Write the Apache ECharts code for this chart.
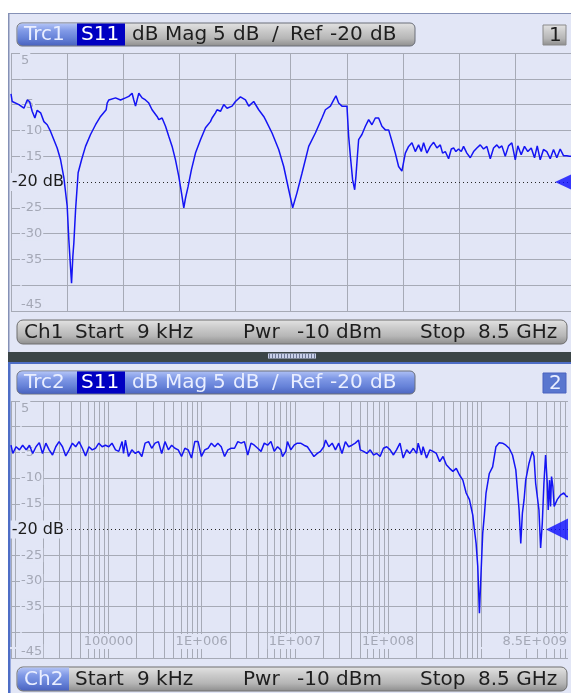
<!DOCTYPE html>
<html>
<head>
<meta charset="utf-8">
<script src="https://cdn.jsdelivr.net/npm/echarts@6/dist/echarts.min.js"></script>
<style>
  html, body { margin: 0; padding: 0; background: #ffffff; }
  #chart { width: 571px; height: 693px; }
</style>
</head>
<body>
<div id="chart"></div>
<script>
// ---- Channel 1: linear sweep 9 kHz .. 8.5 GHz (frequency in GHz) ----
const topFreqGHz = [
  0.009, 0.027, 0.129, 0.205, 0.255, 0.291, 0.330, 0.371, 0.406, 0.458,
  0.508, 0.558, 0.609, 0.659, 0.709, 0.761, 0.811, 0.861, 0.886, 0.912,
  0.927, 0.947, 0.962, 0.988, 1.027, 1.079, 1.139, 1.215, 1.291, 1.367,
  1.386, 1.452, 1.467, 1.492, 1.594, 1.670, 1.745, 1.795, 1.845, 1.871,
  1.897, 1.947, 1.997, 2.048, 2.098, 2.148, 2.224, 2.250, 2.300, 2.352,
  2.402, 2.452, 2.503, 2.553, 2.594, 2.629, 2.655, 2.694, 2.745, 2.806,
  2.882, 2.958, 3.033, 3.058, 3.109, 3.133, 3.185, 3.235, 3.285, 3.361,
  3.412, 3.488, 3.564, 3.614, 3.689, 3.765, 3.841, 3.867, 3.967, 4.068,
  4.144, 4.220, 4.280, 4.345, 4.421, 4.523, 4.624, 4.724, 4.776, 4.852,
  4.902, 4.936, 4.977, 5.027, 5.103, 5.129, 5.155, 5.189, 5.220, 5.239,
  5.261, 5.280, 5.330, 5.382, 5.432, 5.482, 5.533, 5.583, 5.633, 5.685,
  5.735, 5.785, 5.836, 5.886, 5.936, 5.988, 6.038, 6.088,
  6.139, 6.189, 6.230, 6.265, 6.315, 6.367, 6.417, 6.467, 6.518, 6.553,
  6.594, 6.644, 6.685, 6.720, 6.755, 6.795, 6.836, 6.871, 6.921, 6.973,
  7.023, 7.073, 7.124, 7.174, 7.224, 7.276, 7.326, 7.376, 7.412, 7.452,
  7.503, 7.553, 7.603, 7.655, 7.694, 7.745, 7.795, 7.845, 7.897, 7.947,
  7.988, 8.033, 8.083, 8.133, 8.185, 8.235, 8.285, 8.336, 8.386, 8.436,
  8.477, 8.500
];
const topS11dB = [
  -2.9, -4.4, -5.0, -5.7, -4.1, -4.4, -6.3, -7.6, -6.1, -6.6,
  -8.3, -8.9, -10.2, -11.8, -13.4, -15.7, -19.2, -24.7, -31.2, -36.6,
  -39.6, -34.4, -31.8, -25.4, -18.2, -15.7, -13.1, -10.8, -8.9, -7.3,
  -7.0, -6.0, -4.7, -4.1, -3.7, -4.1, -3.7, -3.4, -2.8, -4.1,
  -5.3, -2.8, -3.7, -4.1, -4.7, -6.0, -7.3, -7.9, -7.6, -9.2,
  -11.2, -13.1, -15.7, -18.9, -22.1, -25.0, -23.1, -20.9, -17.6, -14.4,
  -11.8, -9.5, -8.3, -7.6, -6.6, -6.0, -6.3, -5.0, -5.7, -5.3,
  -4.4, -3.5, -4.1, -5.3, -4.4, -6.0, -7.3, -7.9, -10.5, -13.7,
  -17.0, -21.5, -25.0, -22.1, -18.3, -13.1, -10.5, -7.6, -6.0, -5.3,
  -4.1, -3.3, -4.7, -5.3, -5.3, -11.2, -15.0, -19.6, -21.5, -18.9,
  -15.0, -11.8, -10.8, -9.2, -7.9, -8.9, -7.6, -7.6, -9.2, -9.9,
  -9.9, -12.1, -14.4, -17.0, -17.9, -14.4, -13.1, -12.4,
  -14.1, -12.8, -14.1, -12.4, -14.4, -13.1, -12.3, -13.4, -12.8, -14.4,
  -14.1, -15.5, -13.6, -13.4, -14.1, -13.6, -14.1, -13.1, -14.4, -15.3,
  -14.1, -13.4, -12.8, -13.6, -13.1, -15.5, -13.4, -12.8, -13.4, -13.0,
  -15.0, -13.0, -12.4, -15.7, -13.0, -14.7, -13.1, -14.1, -13.4, -15.3,
  -13.0, -15.7, -13.7, -14.1, -15.5, -13.7, -15.3, -13.6, -14.9, -14.9,
  -15.0, -15.0
];

// ---- Channel 2: logarithmic sweep 9 kHz .. 8.5 GHz (frequency in Hz) ----
const botFreqHz = [
  9.0e3, 9.41e3, 10.2e3, 11.1e3, 12.0e3, 13.1e3, 14.2e3, 15.4e3, 16.7e3, 18.1e3,
  19.6e3, 21.3e3, 23.1e3, 25.1e3, 27.2e3, 29.5e3, 32.1e3, 34.8e3, 37.8e3, 41.0e3,
  44.5e3, 48.3e3, 52.4e3, 56.8e3, 61.7e3, 66.9e3, 72.6e3, 78.8e3, 85.5e3, 92.8e3,
  100.7e3, 109e3, 119e3, 129e3, 140e3, 145e3, 152e3, 164e3, 178e3, 194e3,
  210e3, 228e3, 247e3, 269e3, 291e3, 316e3, 343e3, 372e3, 404e3, 439e3,
  476e3, 516e3, 560e3, 608e3, 660e3, 716e3, 777e3, 843e3, 915e3, 993e3,
  1.078e6, 1.17e6, 1.27e6, 1.38e6, 1.49e6, 1.62e6, 1.76e6, 1.91e6, 2.07e6, 2.25e6,
  2.44e6, 2.65e6, 2.87e6, 3.12e6, 3.38e6, 3.67e6, 3.99e6, 4.33e6, 4.69e6, 5.09e6,
  5.53e6, 6.0e6, 6.51e6, 7.06e6, 7.36e6, 7.98e6,
  8.32e6, 9.03e6, 9.79e6, 10.6e6, 11.5e6, 12.5e6, 13.6e6, 14.7e6, 16.0e6, 17.4e6,
  18.8e6, 20.4e6, 21.3e6, 23.1e6, 25.1e6, 27.2e6, 29.5e6, 32.0e6, 34.8e6, 37.7e6,
  40.9e6, 44.4e6, 48.2e6, 50.2e6, 54.5e6, 59.1e6, 64.2e6, 69.6e6, 75.6e6, 82.0e6,
  89.0e6, 96.6e6, 105e6, 114e6, 123e6, 134e6, 145e6, 158e6, 171e6, 186e6,
  202e6, 210e6, 228e6, 237e6, 258e6, 280e6, 303e6, 329e6, 357e6, 388e6,
  421e6, 456e6, 495e6, 538e6, 583e6, 633e6, 687e6, 745e6, 809e6, 843e6,
  878e6, 915e6, 953e6, 992e6, 1.034e9, 1.077e9, 1.122e9, 1.217e9, 1.321e9, 1.434e9,
  1.556e9, 1.688e9, 1.832e9, 1.988e9, 2.157e9, 2.341e9, 2.439e9, 2.540e9, 2.647e9, 2.756e9,
  2.872e9, 2.991e9, 3.246e9, 3.523e9, 3.670e9, 3.823e9, 4.148e9, 4.322e9, 4.502e9, 4.690e9,
  4.886e9, 5.090e9, 5.216e9, 5.389e9, 5.523e9, 5.660e9, 5.848e9, 6.042e9, 6.506e9, 7.059e9,
  7.661e9, 8.2e9, 8.5e9
];
const botS11dB = [
  -3.6, -5.2, -3.9, -4.5, -3.6, -4.5, -3.6, -5.2, -3.9, -3.1,
  -5.2, -3.2, -4.5, -5.5, -3.9, -2.9, -3.9, -5.7, -4.5, -3.2,
  -3.9, -2.9, -4.2, -5.7, -3.9, -4.5, -4.2, -3.2, -3.9, -3.6,
  -3.9, -3.2, -4.5, -4.8, -2.9, -5.2, -2.6, -5.8, -4.5, -5.2,
  -4.8, -5.8, -3.2, -2.9, -4.2, -3.2, -2.9, -5.2, -2.9, -4.5,
  -3.6, -4.2, -4.5, -5.8, -4.2, -4.5, -6.1, -2.9, -2.9, -5.8,
  -4.5, -4.2, -3.2, -3.9, -3.2, -3.9, -5.8, -4.5, -4.2, -4.2,
  -2.9, -3.2, -2.9, -5.5, -3.2, -3.6, -4.2, -4.8, -3.2, -3.6,
  -2.9, -4.8, -3.9, -4.5, -5.8, -4.8,
  -2.9, -4.5, -3.6, -3.2, -3.2, -3.6, -3.9, -4.8, -5.8, -5.2,
  -4.8, -3.9, -2.6, -3.9, -3.2, -4.5, -3.2, -5.2, -2.9, -3.9,
  -3.6, -3.2, -2.6, -4.5, -4.8, -5.2, -4.5, -5.5, -5.2, -5.8,
  -4.2, -3.9, -4.5, -5.5, -4.5, -3.2, -6.1, -4.5, -5.2, -4.2,
  -5.2, -3.2, -5.5, -3.9, -6.1, -4.5, -4.8, -5.2, -6.8, -5.8,
  -7.4, -8.1, -8.7, -8.1, -9.4, -10.4, -12.9, -14.2, -17.2, -20.1,
  -22.7, -27.2, -36.3, -28.5, -20.7, -17.2, -12.9, -9.1, -7.8, -3.9,
  -3.1, -3.2, -3.6, -4.2, -5.5, -8.4, -12.3, -16.2, -22.7, -16.8,
  -14.2, -10.4, -7.1, -4.8, -5.8, -11.0, -16.2, -23.6, -18.8, -11.0,
  -5.5, -11.0, -16.2, -10.4, -15.5, -9.7, -11.6, -15.5, -14.2, -13.3,
  -12.9, -13.6, -13.6
];

// ---- Scale and annotation settings ----
const dbMin = -45, dbMax = 5, dbStep = 5, refLevel = -20;
const dbUnlabelled = [0, -40, -20];
const linStartGHz = 0.009, linStopGHz = 8.5;
const linGridGHz = [0.009, 0.8581, 1.7072, 2.5563, 3.4054, 4.2545, 5.1036, 5.9527, 6.8018, 7.6509, 8.5];
const logStartHz = 9e3, logStopHz = 8.5e9;
const logMantissas = [1, 2, 3, 4, 5, 6, 7, 8, 9];
const logDecades = [1e3, 1e4, 1e5, 1e6, 1e7, 1e8, 1e9];
const logLabelHz = [1e5, 1e6, 1e7, 1e8, 8.5e9];
const logLabelText = ['100000', '1E+006', '1E+007', '1E+008', '8.5E+009'];

// ---- Colours ----
const PANEL = '#e2e6f6';
const GRID = '#a6aab6';
const AXIS_TEXT = '#a4a8b6';
const TRACE = '#1414f4';
const FONT = '"DejaVu Sans", sans-serif';

const logGridHz = [];
logDecades.forEach(d => logMantissas.forEach(m => {
  const f = m * d;
  if (f >= logStartHz && f <= logStopHz) logGridHz.push(f);
}));

const splitColors = [];
for (let v = dbMin; v <= dbMax; v += dbStep) splitColors.push(v === refLevel ? 'rgba(0,0,0,0)' : GRID);

function pairs(xs, ys) { return xs.map((x, i) => [x, ys[i]]); }

function yAxisFor(gridIndex) {
  return {
    type: 'value', gridIndex, min: dbMin, max: dbMax, interval: dbStep, z: 2,
    axisLine: { show: false }, axisTick: { show: false },
    splitLine: { show: true, lineStyle: { color: splitColors, width: 1 } },
    axisLabel: {
      inside: true, margin: 9, color: AXIS_TEXT, fontSize: 13, fontFamily: FONT,
      backgroundColor: PANEL, padding: [1, 1, 0, 1],
      showMinLabel: true, showMaxLabel: true,
      verticalAlignMaxLabel: 'top', verticalAlignMinLabel: 'bottom',
      formatter: v => (dbUnlabelled.indexOf(v) >= 0 ? '' : String(v))
    }
  };
}

function gridLineSeries(xAxisIndex, freqs) {
  return {
    type: 'line', xAxisIndex, yAxisIndex: xAxisIndex, data: [], silent: true,
    markLine: {
      silent: true, symbol: ['none', 'none'], animation: false, z: 1,
      label: { show: false },
      lineStyle: { color: GRID, width: 1, type: 'solid' },
      data: freqs.map(f => ({ xAxis: f }))
    }
  };
}

function refSeries(xAxisIndex) {
  return {
    type: 'line', xAxisIndex, yAxisIndex: xAxisIndex, data: [], silent: true,
    markLine: {
      silent: true, symbol: ['none', 'none'], animation: false, z: 3,
      lineStyle: { color: '#262626', width: 1, type: [1, 3] },
      label: {
        show: true, position: 'start', distance: -55, formatter: refLevel + ' dB',
        color: '#1c1c1c', fontSize: 16, fontFamily: FONT,
        backgroundColor: PANEL, padding: [1, 2, 1, 1]
      },
      data: [{ yAxis: refLevel }]
    }
  };
}

function traceSeries(xAxisIndex, data) {
  return {
    type: 'line', xAxisIndex, yAxisIndex: xAxisIndex, data, z: 10,
    showSymbol: false, symbol: 'none', silent: true, animation: false,
    lineStyle: { color: TRACE, width: 1.5 }
  };
}

function refMarker(xAxisIndex, xVal, size) {
  return {
    type: 'scatter', xAxisIndex, yAxisIndex: xAxisIndex, z: 11, silent: true, clip: false,
    symbol: 'path://M0,10L20,0L20,20Z', symbolSize: size, symbolOffset: [-size[0] / 2, 0],
    itemStyle: { color: '#0b0bff' }, data: [[xVal, refLevel]]
  };
}

// ---- Panel decoration (headers, footers, frames) ----
function vgrad(stops) {
  return { type: 'linear', x: 0, y: 0, x2: 0, y2: 1,
    colorStops: stops.map((c, i) => ({ offset: i / (stops.length - 1), color: c })) };
}
const GRAY = vgrad(['#e4e4e4', '#cbcbcb', '#b6b6b6', '#8c8c8c']);
const BLUE = vgrad(['#b2c3f6', '#8099e6', '#6682d8', '#4a63bf']);
const LIGHT_TXT = '#e9eeff';
const DARK_TXT = '#1e1e1e';

function txt(text, x, y, fill) {
  return { type: 'text', x, y, z: 30,
    style: { text, fill, font: '20px ' + FONT, align: 'left', verticalAlign: 'middle' } };
}
const headerWords = [['dB', 132], ['Mag', 165], ['5', 213], ['dB', 233], ['/', 272], ['Ref', 290], ['-20', 330], ['dB', 370]];
const footerWords = [['Start', 75], ['9 kHz', 137], ['Pwr', 243], ['-10 dBm', 297], ['Stop', 420], ['8.5 GHz', 478]];

function header(y, active, trc, num) {
  const els = [
    { type: 'rect', z: 20, shape: { x: 17, y, width: 398, height: 23, r: 5 },
      style: { fill: active ? BLUE : GRAY, stroke: '#6a6e78', lineWidth: 1 } },
    { type: 'rect', z: 21, shape: { x: 17.5, y: y + 0.5, width: 59.5, height: 22, r: [5, 0, 0, 5] },
      style: { fill: BLUE } },
    { type: 'rect', z: 21, shape: { x: 77, y: y + 0.5, width: 48, height: 22 }, style: { fill: '#0000c2' } },
    txt(trc, 24, y + 12, LIGHT_TXT),
    txt('S11', 81, y + 12, '#ffffff'),
    { type: 'rect', z: 20, shape: { x: 543, y: y + 2, width: 23, height: 20 },
      style: { fill: active ? '#5976cf' : GRAY, stroke: active ? '#4a63bf' : '#8a8a8a', lineWidth: 1 } },
    txt(num, 549, y + 12.5, active ? LIGHT_TXT : DARK_TXT)
  ];
  headerWords.forEach(([w, x]) => els.push(txt(w, x, y + 12, active ? LIGHT_TXT : DARK_TXT)));
  return els;
}

function footer(y, active, ch) {
  const els = [
    { type: 'rect', z: 20, shape: { x: 17, y, width: 550, height: 24, r: 6 },
      style: { fill: GRAY, stroke: '#6e6e6e', lineWidth: 1 } }
  ];
  if (active) {
    els.push({ type: 'rect', z: 21, shape: { x: 17.5, y: y + 0.5, width: 51.5, height: 23, r: [6, 0, 0, 6] },
      style: { fill: BLUE } });
  }
  els.push(txt(ch, 24, y + 12.5, active ? LIGHT_TXT : DARK_TXT));
  footerWords.forEach(([w, x]) => els.push(txt(w, x, y + 12.5, DARK_TXT)));
  return els;
}

const handleStripes = [];
for (let i = 0; i < 16; i++) {
  handleStripes.push({ type: 'rect', z: 2, shape: { x: 269 + i * 3, y: 353.5, width: 1, height: 5 },
    style: { fill: '#6d7894' } });
}

const chrome = [
  // upper panel
  { type: 'rect', z: -10, shape: { x: 8, y: 13, width: 563, height: 339 }, style: { fill: PANEL } },
  { type: 'rect', z: -9, shape: { x: 8, y: 13, width: 563, height: 1 }, style: { fill: '#8591b6' } },
  { type: 'rect', z: -9, shape: { x: 8, y: 13, width: 1.5, height: 339 }, style: { fill: '#8591b6' } },
  // splitter between the two diagrams
  { type: 'rect', z: 1, shape: { x: 8, y: 352, width: 563, height: 10 }, style: { fill: '#3b4547' } },
  { type: 'rect', z: 1, shape: { x: 268, y: 353.5, width: 48, height: 5 }, style: { fill: '#c9d1ea' } },
  // lower (active) panel
  { type: 'rect', z: -10, shape: { x: 8, y: 362, width: 563, height: 331 }, style: { fill: PANEL } },
  { type: 'rect', z: -9, shape: { x: 8, y: 362, width: 563, height: 2 }, style: { fill: '#4d6dc6' } },
  { type: 'rect', z: -9, shape: { x: 8, y: 362, width: 2.5, height: 331 }, style: { fill: '#4d6dc6' } }
].concat(handleStripes,
  header(23, false, 'Trc1', '1'),
  footer(320, false, 'Ch1'),
  header(371, true, 'Trc2', '2'),
  footer(667, true, 'Ch2'));

const chart = echarts.init(document.getElementById('chart'), null, { renderer: 'canvas' });
chart.setOption({
  backgroundColor: '#ffffff',
  animation: false,
  textStyle: { fontFamily: FONT },
  graphic: { elements: chrome },
  grid: [
    { left: 11, top: 53, width: 561, height: 258 },
    { left: 11, top: 401, width: 561, height: 257 }
  ],
  xAxis: [
    { type: 'value', gridIndex: 0, min: linStartGHz, max: linStopGHz, z: 2,
      axisLine: { show: false }, axisTick: { show: false }, axisLabel: { show: false }, splitLine: { show: false } },
    { type: 'log', logBase: 10, gridIndex: 1, min: logStartHz, max: logStopHz, z: 2,
      axisLine: { show: false }, axisTick: { show: false }, splitLine: { show: false },
      axisLabel: {
        inside: true, margin: 9, color: AXIS_TEXT, fontSize: 13, fontFamily: FONT,
        backgroundColor: PANEL, padding: [1, 1, 1, 1], alignMaxLabel: 'right',
        showMinLabel: true, showMaxLabel: true,
        formatter: v => {
          const i = logLabelHz.findIndex(f => Math.abs(f - v) / f < 1e-4);
          return i < 0 ? '' : logLabelText[i];
        }
      } }
  ],
  yAxis: [yAxisFor(0), yAxisFor(1)],
  series: [
    gridLineSeries(0, linGridGHz),
    gridLineSeries(1, logGridHz),
    refSeries(0),
    refSeries(1),
    traceSeries(0, pairs(topFreqGHz, topS11dB)),
    traceSeries(1, pairs(botFreqHz, botS11dB)),
    refMarker(0, linStopGHz, [16, 15]),
    refMarker(1, logStopHz, [22, 22])
  ]
});
</script>
</body>
</html>
